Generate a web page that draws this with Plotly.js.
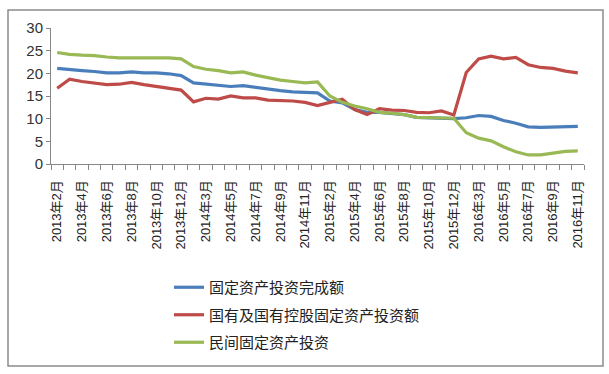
<!DOCTYPE html>
<html>
<head>
<meta charset="utf-8">
<script src="https://cdn.plot.ly/plotly-3.0.1.min.js"></script>
<style>
html,body{margin:0;padding:0;background:#fff;}
#chart{width:609px;height:374px;}
</style>
</head>
<body>
<div id="chart"></div>
<script>
// Months (January merged into February, as in the source statistics)
const months = [
  "2013年2月","2013年3月","2013年4月","2013年5月","2013年6月","2013年7月","2013年8月","2013年9月","2013年10月","2013年11月","2013年12月",
  "2014年2月","2014年3月","2014年4月","2014年5月","2014年6月","2014年7月","2014年8月","2014年9月","2014年10月","2014年11月","2014年12月",
  "2015年2月","2015年3月","2015年4月","2015年5月","2015年6月","2015年7月","2015年8月","2015年9月","2015年10月","2015年11月","2015年12月",
  "2016年2月","2016年3月","2016年4月","2016年5月","2016年6月","2016年7月","2016年8月","2016年9月","2016年10月","2016年11月"
];
// 固定资产投资完成额 (cumulative YoY growth, %)
const totalFAI = [
  21.1,20.8,20.6,20.4,20.1,20.1,20.3,20.1,20.1,19.9,19.5,
  17.9,17.6,17.3,17.1,17.3,16.9,16.5,16.2,15.9,15.8,15.7,
  13.9,13.5,12.0,11.4,11.4,11.2,10.9,10.3,10.2,10.2,10.0,
  10.2,10.7,10.5,9.6,9.0,8.2,8.1,8.2,8.3,8.3
];
// 国有及国有控股固定资产投资额
const stateFAI = [
  16.7,18.7,18.2,17.8,17.5,17.6,18.0,17.5,17.1,16.8,16.3,
  13.7,14.5,14.3,15.0,14.6,14.6,14.1,14.0,13.9,13.6,12.9,
  13.6,14.3,12.0,10.9,12.2,11.9,11.8,11.4,11.3,11.7,10.8,
  20.2,23.2,23.8,23.2,23.5,21.9,21.3,21.1,20.5,20.1
];
// 民间固定资产投资
const privateFAI = [
  24.6,24.2,24.0,23.9,23.6,23.4,23.4,23.4,23.5,23.4,23.2,
  21.5,20.9,20.6,20.1,20.3,19.6,19.1,18.5,18.2,17.9,18.1,
  15.0,13.6,12.8,12.2,11.4,11.2,10.9,10.3,10.2,10.1,10.1,
  6.9,5.7,5.1,3.8,2.7,2.0,2.0,2.4,2.8,2.9
];
const seriesNames = ["固定资产投资完成额","国有及国有控股固定资产投资额","民间固定资产投资"];
const colors = ["#4A7EBB","#BE4B48","#98B954"];

const idx = months.map((m, i) => i);
const tickIdx = idx.filter(i => i % 2 === 0);
const tickText = tickIdx.map(i => months[i]);

const FONT = "'Liberation Sans', 'Noto Sans CJK SC', sans-serif";

const traces = [totalFAI, stateFAI, privateFAI].map((vals, k) => ({
  x: idx,
  y: vals,
  type: "scatter",
  mode: "lines",
  name: seriesNames[k],
  legendgroup: "g" + k,
  line: {color: colors[k], width: 3.2, shape: "linear"},
  hoverinfo: "x+y"
}));

// plot area in pixels: x 51..584, y 28..164
const L = 51, R = 584, T = 28, B = 164, W = 609, H = 374;
const pw = R - L, ph = B - T;
const px = v => (v - L) / pw;
const py = v => (B - v) / ph;

const layout = {
  width: W, height: H,
  margin: {l: L, r: W - R, t: T, b: H - B, pad: 0},
  paper_bgcolor: "#ffffff",
  plot_bgcolor: "#ffffff",
  font: {family: FONT, color: "#333333"},
  showlegend: true,
  legend: {
    x: px(169), xanchor: "left",
    y: py(271), yanchor: "top",
    traceorder: "grouped",
    tracegroupgap: 5,
    font: {family: FONT, size: 15, color: "#222222"},
    bgcolor: "rgba(0,0,0,0)",
    itemwidth: 30
  },
  xaxis: {
    type: "linear",
    range: [-0.5, months.length - 0.5],
    tickmode: "array",
    tickvals: tickIdx,
    ticktext: tickText,
    tickangle: -90,
    ticks: "",
    ticklabelstandoff: 10,
    showgrid: false,
    zeroline: false,
    showline: true,
    linecolor: "#868686",
    linewidth: 1,
    tickfont: {family: FONT, size: 13, color: "#222222"},
    minor: {tick0: -0.5, dtick: 1, ticks: "outside", ticklen: 5, tickcolor: "#868686", showgrid: false},
    fixedrange: true
  },
  yaxis: {
    range: [0, 30],
    tickmode: "linear",
    tick0: 0, dtick: 5,
    ticks: "outside",
    ticklen: 4,
    tickcolor: "#868686",
    showgrid: false,
    zeroline: false,
    showline: true,
    linecolor: "#868686",
    linewidth: 1,
    tickfont: {family: FONT, size: 15, color: "#333333"},
    fixedrange: true
  },
  shapes: [{
    type: "rect", xref: "paper", yref: "paper",
    x0: px(8), x1: px(603), y0: py(366), y1: py(10),
    line: {color: "#8c8c8c", width: 1.5},
    fillcolor: "rgba(0,0,0,0)",
    layer: "below"
  }]
};

Plotly.newPlot("chart", traces, layout, {displayModeBar: false, staticPlot: true});
</script>
</body>
</html>
